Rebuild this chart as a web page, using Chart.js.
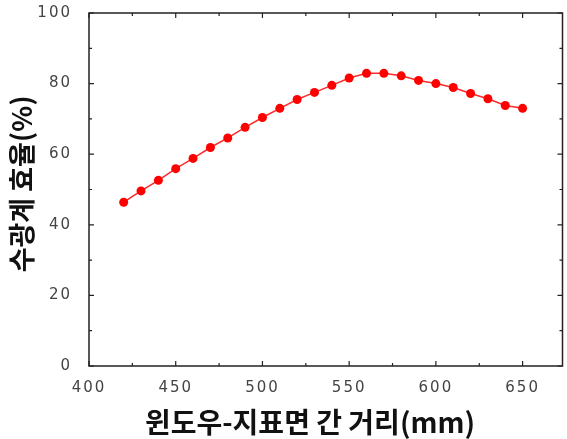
<!DOCTYPE html>
<html>
<head>
<meta charset="utf-8">
<script src="https://cdn.jsdelivr.net/npm/chart.js@4"></script>
<style>
  html, body { margin: 0; padding: 0; background: #fff; }
  #wrap { width: 567px; height: 439px; }
</style>
</head>
<body>
<div id="wrap"><canvas id="chart"></canvas></div>
<script>
// data
const distances = [420, 430, 440, 450, 460, 470, 480, 490, 500, 510, 520, 530,
  540, 550, 560, 570, 580, 590, 600, 610, 620, 630, 640, 650];
const efficiency = [46.4, 49.6, 52.6, 55.9, 58.8, 61.9, 64.6, 67.6, 70.4, 73.0, 75.5, 77.5,
  79.5, 81.6, 82.9, 82.9, 82.2, 80.9, 80.0, 78.9, 77.2, 75.7, 73.8, 73.0];
const xMajor = [400, 450, 500, 550, 600, 650];
const xMinor = [425, 475, 525, 575, 625];
const yMajor = [0, 20, 40, 60, 80, 100];
const yMinor = [10, 30, 50, 70, 90];

const xTitle = '윈도우-지표면 간 거리(mm)';
const yTitle = '수광계 효율(%)';
const titleFont = 'bold 28px "Noto Sans CJK KR", sans-serif';

// frame, inward ticks on all four sides, and the two axis titles
const framePlugin = {
  id: 'frame',
  afterDatasetsDraw(chart) {
    // tick labels are drawn after this (z: 1), spaced out like the original
    chart.ctx.letterSpacing = '2px';
  },
  afterDraw(chart) {
    const ctx = chart.ctx;
    ctx.letterSpacing = '0px';
    const a = chart.chartArea;
    const xs = chart.scales.x, ys = chart.scales.y;
    ctx.save();
    ctx.strokeStyle = '#222';
    ctx.lineWidth = 1.5;
    ctx.strokeRect(a.left, a.top, a.right - a.left, a.bottom - a.top);
    ctx.lineWidth = 1.2;
    ctx.beginPath();
    const tickX = (v, len) => {
      const px = xs.getPixelForValue(v);
      ctx.moveTo(px, a.bottom); ctx.lineTo(px, a.bottom - len);
      ctx.moveTo(px, a.top); ctx.lineTo(px, a.top + len);
    };
    const tickY = (v, len) => {
      const py = ys.getPixelForValue(v);
      ctx.moveTo(a.left, py); ctx.lineTo(a.left + len, py);
      ctx.moveTo(a.right, py); ctx.lineTo(a.right - len, py);
    };
    xMajor.forEach(v => tickX(v, 5));
    xMinor.forEach(v => tickX(v, 3));
    yMajor.forEach(v => tickY(v, 5));
    yMinor.forEach(v => tickY(v, 3));
    ctx.stroke();

    ctx.fillStyle = '#111';
    ctx.textAlign = 'center';
    ctx.textBaseline = 'middle';
    ctx.font = titleFont;
    ctx.fillText(xTitle, 310, 422);
    ctx.translate(22, 184);
    ctx.rotate(-Math.PI / 2);
    ctx.font = 'bold 27px "Noto Sans CJK KR", sans-serif';
    ctx.fillText(yTitle, 0, 0);
    ctx.restore();
  }
};

Chart.defaults.font.family = '"DejaVu Sans", sans-serif';

new Chart('chart', {
  type: 'line',
  data: {
    datasets: [{
      data: distances.map((d, i) => ({ x: d, y: efficiency[i] })),
      borderColor: '#ff2a2a',
      backgroundColor: '#ff0000',
      borderWidth: 1.5,
      pointRadius: 4.5,
      pointBorderWidth: 0,
      pointStyle: 'circle',
      tension: 0
    }]
  },
  options: {
    responsive: true,
    maintainAspectRatio: false,
    animation: false,
    layout: { padding: { top: 13, right: 1, left: 0, bottom: 0 } },
    plugins: { legend: { display: false }, tooltip: { enabled: false } },
    scales: {
      x: {
        type: 'linear',
        min: 400,
        max: 673,
        grid: { display: false },
        border: { display: false },
        afterBuildTicks: s => { s.ticks = xMajor.map(v => ({ value: v })); },
        afterFit: s => { s.height = 73; s.paddingLeft = 0; s.paddingRight = 0; },
        ticks: { font: { size: 15 }, color: '#444', padding: 5, maxRotation: 0, z: 1 }
      },
      y: {
        min: 0,
        max: 100,
        grid: { display: false },
        border: { display: false },
        afterBuildTicks: s => { s.ticks = yMajor.map(v => ({ value: v })); },
        afterFit: s => { s.width = 89; s.paddingTop = 0; s.paddingBottom = 0; },
        ticks: { font: { size: 15 }, color: '#444', padding: 9, z: 1 }
      }
    }
  },
  plugins: [framePlugin]
});
</script>
</body>
</html>
